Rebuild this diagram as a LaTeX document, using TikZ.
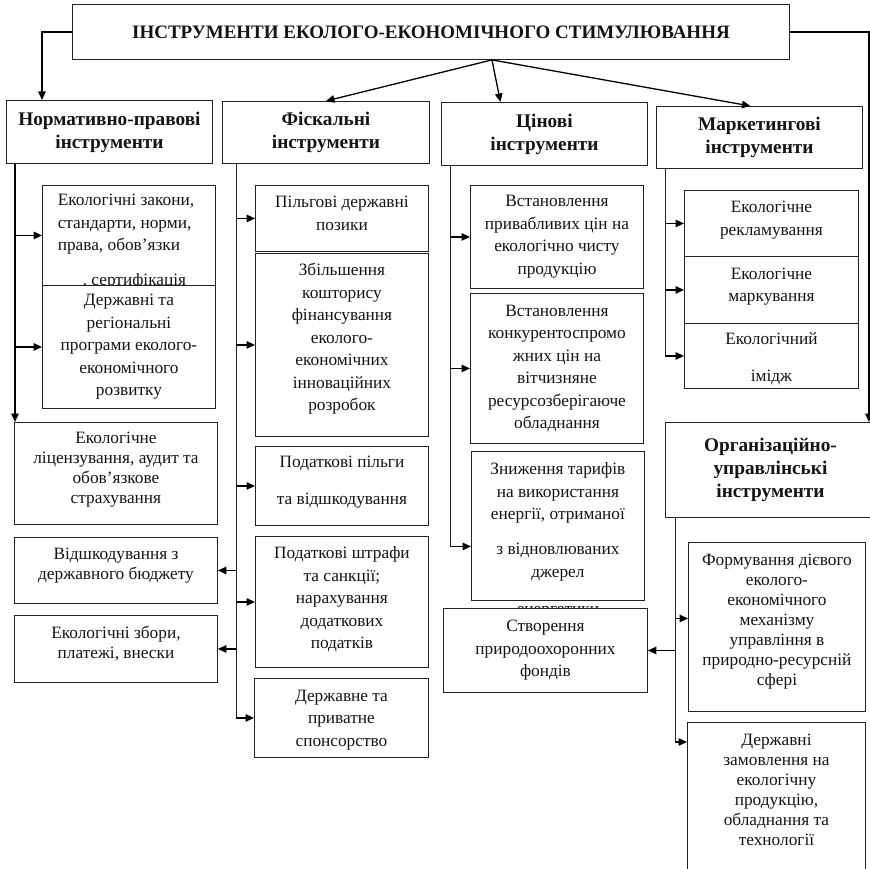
\documentclass[tikz,border=0pt]{standalone}
\usepackage{fontspec}
\setmainfont{Liberation Serif}
\usetikzlibrary{positioning,arrows.meta,calc}

\definecolor{lineGray}{RGB}{35,35,35}
\definecolor{textBlack}{RGB}{20,20,20}

\begin{document}
\begin{tikzpicture}[x=1pt,y=-1pt,
  box/.style={draw=lineGray,line width=0.9pt,fill=white,inner sep=0pt,anchor=north west},
  head/.style={box,align=center,text=textBlack,font=\fontsize{19.3}{23}\selectfont\bfseries},
  txt/.style={inner sep=0pt,align=center,text=textBlack,font=\fontsize{17.3}{22.5}\selectfont},
  tight/.style={txt,font=\fontsize{17.3}{20}\selectfont},
  arr/.style={draw=black,line width=1.3pt,-{Triangle[length=8.5pt,width=7.5pt]}},
  trunk/.style={draw=lineGray,line width=1pt}]

  \useasboundingbox[fill=white] (0,0) rectangle (870,869);
  \clip (0,0) rectangle (870,869);

  % top level
  \node[head,font=\fontsize{19}{23}\selectfont\bfseries,minimum width=717pt,minimum height=55pt] (title) at (72,4)
    {ІНСТРУМЕНТИ ЕКОЛОГО-ЕКОНОМІЧНОГО СТИМУЛЮВАННЯ};
  \coordinate (hub) at ([xshift=61pt]title.south);

  % instrument groups
  \node[head,minimum width=206pt,minimum height=63pt] (norm) at (6,100) {Нормативно-правові\\інструменти};
  \node[head,minimum width=207pt,minimum height=62pt] (fisk) at (222,101) {Фіскальні\\інструменти};
  \node[head,minimum width=206pt,minimum height=63pt] (cin) at (441,102) {Цінові\\інструменти};
  \node[head,minimum width=206pt,minimum height=62pt] (mark) at (656,106) {Маркетингові\\інструменти};
  \node[head,minimum width=210pt,minimum height=95pt] (org) at (665,422) {Організаційно-\\управлінські\\інструменти};

  % normative-legal
  \node[box,minimum width=173pt,minimum height=100pt] (zak) at (42,185) {};
  \node[txt,align=left] (zakT) at ([xshift=-3pt,yshift=-6.5pt]zak.center)
    {Екологічні закони,\\стандарти, норми,\\права, обов’язки\\[12.5pt]\hspace*{25pt}, сертифікація};
  \node[box,minimum width=173pt,minimum height=123pt] (prog) at (42,285) {};
  \node[txt] (progT) at (prog.center) {Державні та\\регіональні\\програми еколого-\\економічного\\розвитку};
  \node[box,minimum width=203pt,minimum height=102pt] (lic) at (14,422) {};
  \node[tight] (licT) at ([yshift=4pt]lic.center) {Екологічне\\ліцензування, аудит та\\обов’язкове\\страхування};
  \node[box,minimum width=203pt,minimum height=66pt] (vid) at (14,537) {};
  \node[tight] (vidT) at ([yshift=5pt]vid.center) {Відшкодування з\\державного бюджету};
  \node[box,minimum width=203pt,minimum height=67pt] (zbor) at (14,615) {};
  \node[tight] (zborT) at ([yshift=5pt]zbor.center) {Екологічні збори,\\платежі, внески};

  % fiscal
  \node[box,minimum width=173pt,minimum height=66pt] (pilg) at (255,185) {};
  \node[txt] (pilgT) at ([yshift=5pt]pilg.center) {Пільгові державні\\позики};
  \node[box,minimum width=173pt,minimum height=183pt] (zbil) at (255,253) {};
  \node[txt] (zbilT) at ([yshift=6pt]zbil.center) {Збільшення\\кошторису\\фінансування\\еколого-\\економічних\\інноваційних\\розробок};
  \node[box,minimum width=173pt,minimum height=79pt] (podp) at (255,446) {};
  \node[txt] (podpT) at ([yshift=4pt]podp.center) {Податкові пільги\\[14.5pt]та відшкодування};
  \node[box,minimum width=173pt,minimum height=131pt] (podsh) at (255,536) {};
  \node[txt] (podshT) at ([yshift=2.5pt]podsh.center) {Податкові штрафи\\та санкції;\\нарахування\\додаткових\\податків};
  \node[box,minimum width=174pt,minimum height=79pt] (spon) at (254,678) {};
  \node[txt] (sponT) at ([yshift=-2pt]spon.center) {Державне та\\приватне\\спонсорство};

  % price
  \node[box,minimum width=173pt,minimum height=103pt] (priv) at (470,185) {};
  \node[txt] (privT) at (priv.center) {Встановлення\\привабливих цін на\\екологічно чисту\\продукцію};
  \node[box,minimum width=173pt,minimum height=150pt] (konk) at (470,293) {};
  \node[txt] (konkT) at (konk.center) {Встановлення\\конкурентоспромо\\жних цін на\\вітчизняне\\ресурсозберігаюче\\обладнання};
  \node[box,minimum width=173pt,minimum height=149pt] (tar) at (471,451) {};
  \node[txt] (tarT) at ([yshift=-14.5pt]tar.center) {Зниження тарифів\\на використання\\енергії, отриманої\\[12.5pt]з відновлюваних\\джерел\\[15pt]енергетики};
  \node[box,minimum width=204pt,minimum height=84pt] (stvor) at (443,608) {};
  \node[txt] (stvorT) at (stvor.center) {Створення\\природоохоронних\\фондів};

  % marketing
  \node[box,minimum width=174pt,minimum height=66pt] (rekl) at (684,190) {};
  \node[txt] (reklT) at ([yshift=3.5pt]rekl.center) {Екологічне\\рекламування};
  \node[box,minimum width=174pt,minimum height=67pt] (mrk) at (684,256) {};
  \node[txt] (mrkT) at ([yshift=3.5pt]mrk.center) {Екологічне\\маркування};
  \node[box,minimum width=174pt,minimum height=65pt] (imid) at (684,323) {};
  \node[txt] (imidT) at ([yshift=-3pt]imid.center) {Екологічний\\[14.5pt]імідж};

  % organisational
  \node[box,minimum width=177pt,minimum height=169pt] (form) at (688,542) {};
  \node[tight] (formT) at ([yshift=5.5pt]form.center) {Формування дієвого\\еколого-\\економічного\\механізму\\управління в\\природно-ресурсній\\сфері};
  \node[box,minimum width=178pt,minimum height=158pt] (zam) at (687,722) {};
  \node[tight] (zamT) at ([yshift=11.5pt]zam.center) {Державні\\замовлення на\\екологічну\\продукцію,\\обладнання та\\технології};

  % connectors from the title
  \draw[arr] (title.west) -| ([xshift=36pt]norm.north west);
  \draw[arr] (title.east) -| ([xshift=-7pt]org.north east);
  \draw[arr] (hub) -- (fisk.north);
  \draw[arr] (hub) -- ([xshift=-44pt]cin.north);
  \draw[arr] (hub) -- ([xshift=-9pt]mark.north);

  % column trunks
  \coordinate (nt) at ([xshift=9pt]norm.south west);
  \coordinate (ft) at ([xshift=14pt]fisk.south west);
  \coordinate (ct) at ([xshift=9pt]cin.south west);
  \coordinate (mt) at ([xshift=9pt]mark.south west);
  \coordinate (ot) at ([xshift=10pt]org.south west);
  \coordinate (tarIn) at ([yshift=-20.5pt]tar.west);
  \coordinate (formIn) at ([yshift=8.5pt]form.west);
  \coordinate (zamIn) at ([yshift=-20pt]zam.north west);

  \draw[arr] (nt) -- (nt |- lic.north);
  \foreach \b in {zak,prog} \draw[arr] (nt |- \b.west) -- (\b.west);

  \draw[trunk] (ft) -- (ft |- spon.west);
  \foreach \b in {pilg,zbil,podp,podsh,spon} \draw[arr] (ft |- \b.west) -- (\b.west);
  \foreach \b in {vid,zbor} \draw[arr] (ft |- \b.east) -- (\b.east);

  \draw[trunk] (ct) -- (ct |- tarIn);
  \foreach \b in {priv.west,konk.west,tarIn} \draw[arr] (ct |- \b) -- (\b);

  \draw[trunk] (mt) -- (mt |- imid.west);
  \foreach \b in {rekl,mrk,imid} \draw[arr] (mt |- \b.west) -- (\b.west);

  \draw[trunk] (ot) -- (ot |- zamIn);
  \foreach \b in {formIn,zamIn} \draw[arr] (ot |- \b) -- (\b);
  \draw[arr] (ot |- stvor.east) -- (stvor.east);
\end{tikzpicture}
\end{document}
